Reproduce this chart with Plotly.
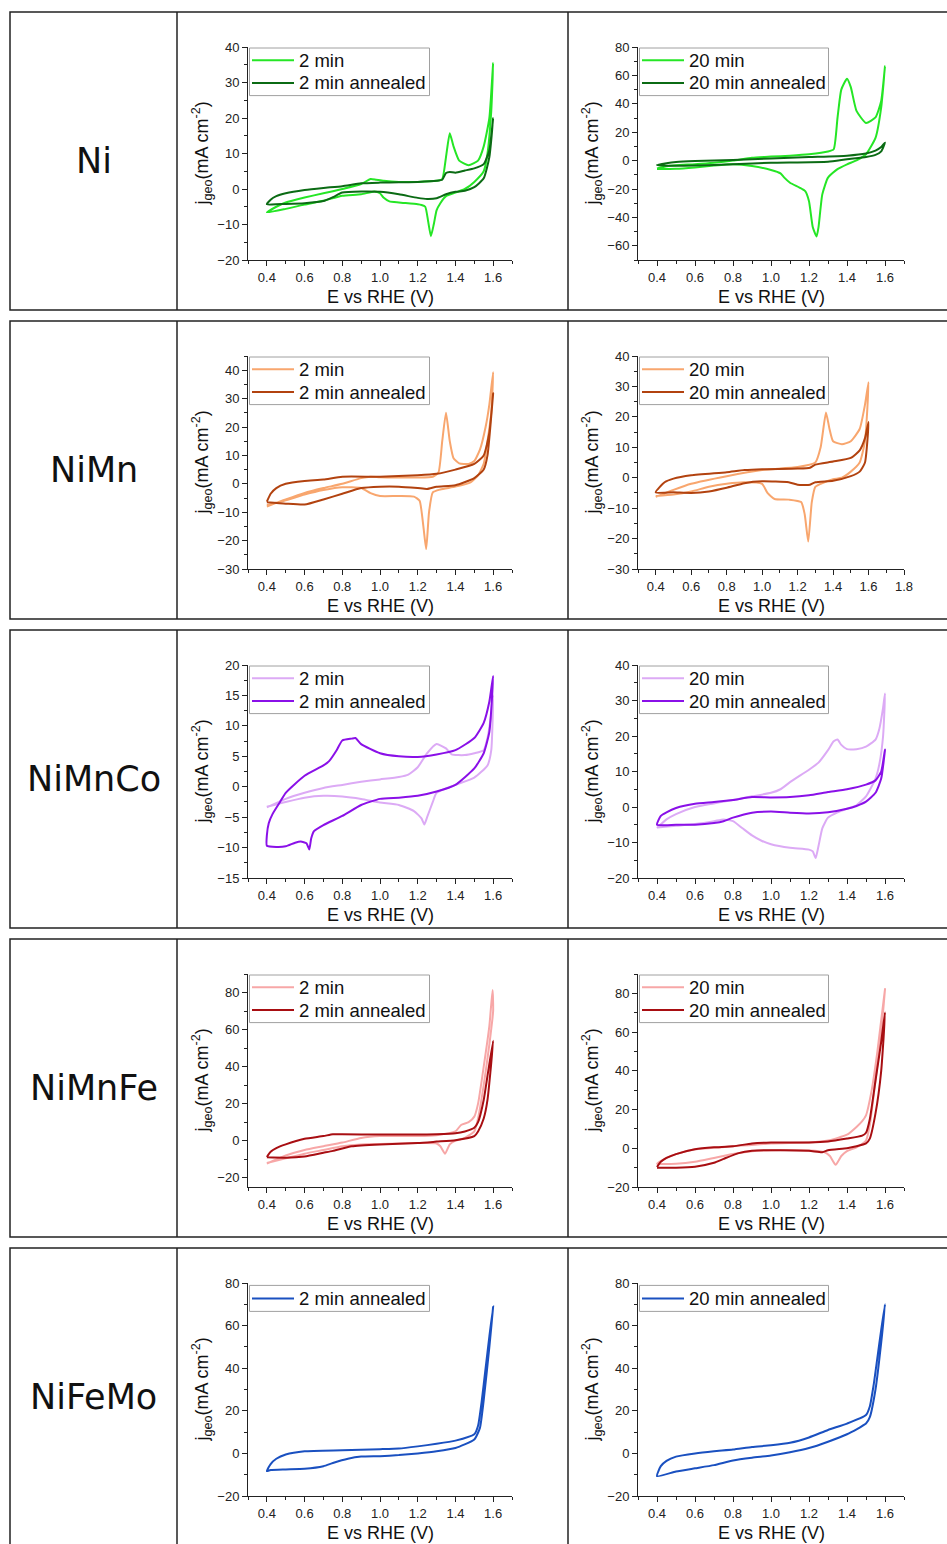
import plotly.graph_objects as go

# ---------------- data ----------------
# Ni, 2 min
ni_2_E = [0.40,0.45,0.50,0.60,0.70,0.80,0.90,0.95,0.98,1.02,1.10,1.20,1.30,1.33,1.35,1.37,1.39,1.42,1.47,1.52,1.55,1.58,1.60,
          1.59,1.57,1.55,1.50,1.45,1.40,1.35,1.32,1.30,1.285,1.27,1.255,1.24,1.22,1.20,1.10,1.05,1.02,1.00,0.97,0.90,0.80,0.70,0.60,0.50,0.40]
ni_2_j = [-6.6,-5.0,-3.8,-2.4,-1.2,0.0,1.4,2.8,2.6,2.3,2.0,2.0,2.3,2.8,9.0,15.7,12.0,8.0,6.7,8.0,12,20,35.4,
          22,10,5,2,0,-1,-2,-4,-6,-10,-13.3,-9,-5,-4.5,-4.3,-3.8,-3.5,-2.5,-1.2,-0.7,-1.5,-1.9,-3.3,-4.4,-5.6,-6.6]
# Ni, 2 min annealed
ni_2a_E = [0.40,0.42,0.45,0.50,0.60,0.70,0.80,0.90,1.00,1.10,1.20,1.30,1.33,1.35,1.37,1.40,1.45,1.50,1.55,1.58,1.60,
           1.58,1.55,1.50,1.45,1.40,1.35,1.30,1.25,1.20,1.10,1.00,0.90,0.80,0.75,0.70,0.60,0.50,0.40]
ni_2a_j = [-4.3,-3.0,-2.0,-1.2,-0.3,0.3,0.8,1.6,1.8,1.9,2.0,2.3,2.6,4.5,4.8,4.6,5.2,5.8,7.0,11,19.9,
           9,3,0.5,-0.5,-0.8,-1.5,-2.6,-2.8,-2.5,-1.5,-0.8,-0.7,-1.0,-2.3,-3.4,-4.0,-4.2,-4.3]
# Ni, 20 min
ni_20_E = [0.40,0.45,0.50,0.60,0.70,0.80,0.90,1.00,1.10,1.20,1.30,1.33,1.35,1.37,1.40,1.42,1.45,1.50,1.55,1.58,1.60,
           1.58,1.55,1.50,1.45,1.40,1.35,1.30,1.27,1.25,1.24,1.22,1.20,1.18,1.15,1.10,1.07,1.05,1.00,0.90,0.80,0.70,0.60,0.50,0.40]
ni_20_j = [-5.5,-4.0,-3.2,-2.5,-1.5,0.0,2.0,2.8,3.5,4.5,6.4,8.0,30,50,57.6,51.7,35,26.5,30.4,42,66.5,
           37.5,16,4.5,0.2,-2.6,-6,-12,-23.8,-47,-53.4,-47,-28.6,-21.5,-19,-15.6,-12,-9,-6.6,-3.8,-2.6,-3.5,-4.8,-5.8,-6.0]
# Ni, 20 min annealed
ni_20a_E = [0.40,0.45,0.50,0.60,0.80,1.00,1.20,1.40,1.50,1.55,1.58,1.60,
            1.58,1.55,1.50,1.40,1.30,1.00,0.80,0.60,0.45,0.40]
ni_20a_j = [-3.0,-1.8,-1.0,-0.3,0.5,1.5,2.5,3.5,5.0,7.0,9.5,12.7,
            6.5,4.0,2.5,1.0,-0.8,-1.5,-2.5,-3.5,-3.6,-3.0]

# NiMn, 2 min
nimn_2_E = [0.40,0.50,0.60,0.70,0.80,0.90,0.95,1.00,1.10,1.20,1.28,1.31,1.33,1.35,1.37,1.39,1.42,1.47,1.50,1.53,1.56,1.58,1.60,
            1.59,1.57,1.55,1.52,1.48,1.40,1.32,1.28,1.26,1.245,1.23,1.21,1.18,1.10,1.00,0.95,0.90,0.80,0.70,0.60,0.50,0.40]
nimn_2_j = [-8.0,-5.5,-3.2,-1.5,0.0,2.0,2.5,2.3,2.2,2.2,2.5,4.0,15,25,15,9,7.2,7,8,12,20,28,39.3,
            25,15,7,3,0.5,-1,-2,-3,-10,-23,-15,-6,-4.5,-4.3,-4.3,-3.3,-1.5,-1.2,-2.2,-3.8,-5.8,-7.5]
# NiMn, 2 min annealed
nimn_2a_E = [0.40,0.42,0.45,0.50,0.60,0.70,0.80,1.00,1.20,1.30,1.40,1.50,1.55,1.58,1.60,
             1.57,1.55,1.50,1.40,1.30,1.25,1.20,1.10,1.00,0.90,0.80,0.70,0.60,0.50,0.40]
nimn_2a_j = [-6.3,-3.5,-1.5,0.0,1.0,1.5,2.5,2.5,3.0,3.5,5.0,7.0,10,18,31.9,
             10,5,2,-0.5,-1,-1.8,-1.5,-1,-1,-1.5,-3.5,-5.5,-7.3,-7,-6.5]
# NiMn, 20 min
nimn_20_E = [0.40,0.50,0.60,0.80,1.00,1.20,1.30,1.33,1.36,1.38,1.40,1.45,1.50,1.55,1.58,1.60,
             1.58,1.55,1.50,1.45,1.40,1.33,1.30,1.28,1.26,1.24,1.22,1.15,1.07,1.03,1.00,0.90,0.80,0.70,0.60,0.50,0.40]
nimn_20_j = [-6.3,-4,-2,0.5,2.5,3.5,5,10,21.4,16,12,11,12,16,24,31.4,
             12,5,2,0,-0.5,-2,-3,-8,-21,-12,-8,-7.2,-7,-5,-2,-1.5,-2,-3,-4.5,-5.5,-6]
# NiMn, 20 min annealed
nimn_20a_E = [0.40,0.45,0.50,0.60,0.80,0.90,1.00,1.20,1.27,1.30,1.40,1.50,1.55,1.58,1.60,
              1.58,1.55,1.50,1.40,1.30,1.27,1.20,1.15,1.00,0.90,0.80,0.70,0.60,0.50,0.40]
nimn_20a_j = [-4.8,-1.5,-0.3,0.8,1.8,2.5,2.8,3.0,3.3,4.3,5.3,6.5,9,13,18.3,
              5,2,0.5,-1,-1.5,-2.3,-2.3,-1.5,-1.2,-1.8,-3.3,-4.5,-5,-4.8,-4.8]

# NiMnCo, 2 min
nimnco_2_E = [0.40,0.50,0.60,0.70,0.80,0.90,1.00,1.10,1.15,1.20,1.25,1.30,1.35,1.38,1.45,1.50,1.55,1.57,1.59,1.60,
              1.59,1.57,1.50,1.40,1.30,1.28,1.25,1.235,1.22,1.18,1.10,1.00,0.90,0.80,0.70,0.60,0.50,0.40]
nimnco_2_j = [-3.4,-2,-1,-0.2,0.3,0.8,1.2,1.6,2,3.2,5.5,7,6.3,5.3,5.2,5.5,6,8,12,15,
              6,3.5,1.5,0.3,-1,-2.5,-5,-6.2,-5.2,-4,-3,-2.6,-2,-1.6,-1.5,-1.8,-2.5,-3.3]
# NiMnCo, 2 min annealed
nimnco_2a_E = [0.40,0.40,0.41,0.43,0.47,0.50,0.60,0.70,0.73,0.77,0.80,0.85,0.87,0.90,1.00,1.10,1.20,1.30,1.40,1.50,1.55,1.58,1.60,
               1.58,1.55,1.50,1.40,1.30,1.20,1.10,1.00,0.90,0.80,0.70,0.65,0.635,0.625,0.61,0.58,0.55,0.50,0.45,0.40]
nimnco_2a_j = [-9.7,-8,-6,-4.5,-2.5,-1,1.8,3.5,4.2,6,7.6,7.9,8,7,5.5,5,4.9,5.3,6,8,10.5,14,18.2,
               9,5.5,3,0.3,-0.8,-1.5,-1.8,-2,-3,-4.8,-6.3,-7.3,-8.5,-10.3,-9.3,-9,-9.2,-9.8,-9.9,-9.7]
# NiMnCo, 20 min
nimnco_20_E = [0.40,0.45,0.50,0.60,0.80,0.90,1.00,1.05,1.10,1.20,1.25,1.30,1.33,1.35,1.37,1.40,1.45,1.50,1.55,1.57,1.59,1.60,
               1.59,1.57,1.55,1.50,1.45,1.40,1.35,1.30,1.27,1.25,1.235,1.22,1.20,1.10,1.00,0.95,0.90,0.85,0.80,0.75,0.70,0.60,0.50,0.40]
nimnco_20_j = [-5.9,-3.5,-2.0,0.0,2.0,3.0,4.0,5.0,7.0,10.5,12.5,16,18.5,19,17.5,16.3,16.3,17,19,22,28,32,
               20,12,8,3,0.5,-0.5,-1.5,-3,-6,-11,-14.4,-12.5,-12,-11.5,-10.5,-9.5,-8,-6,-4,-3.5,-4,-4.8,-5.3,-5.8]
# NiMnCo, 20 min annealed
nimnco_20a_E = [0.40,0.42,0.45,0.50,0.60,0.70,0.80,0.90,1.00,1.10,1.20,1.30,1.40,1.50,1.55,1.58,1.60,
                1.58,1.55,1.50,1.45,1.40,1.30,1.20,1.10,1.00,0.90,0.80,0.75,0.70,0.60,0.50,0.40]
nimnco_20a_j = [-5,-2.5,-1.5,-0.3,0.9,1.4,2,2.8,2.7,2.8,3.3,4.2,5,6.3,7.5,10,16.2,
                8,4,1.5,0.3,-0.5,-1.5,-1.8,-1.6,-1.3,-1.6,-3,-4,-4.5,-5,-5,-5]

# NiMnFe, 2 min
nimnfe_2_E = [0.40,0.50,0.60,0.70,0.80,0.90,1.00,1.20,1.30,1.40,1.43,1.47,1.50,1.52,1.55,1.58,1.597,
              1.60,1.58,1.55,1.52,1.50,1.45,1.40,1.37,1.345,1.32,1.30,1.20,1.00,0.90,0.80,0.70,0.60,0.50,0.40]
nimnfe_2_j = [-12.4,-8,-5,-3,-1,1.5,2.5,2.5,3,5,8.5,10,13,20,40,62,81.3,
              70,52,30,12,5,1.5,0,-2,-7,-3,-1.5,-1.3,-1.8,-2,-3,-5,-7,-9.5,-12]
# NiMnFe, 2 min annealed
nimnfe_2a_E = [0.40,0.42,0.45,0.50,0.60,0.70,0.75,0.80,1.00,1.20,1.30,1.40,1.45,1.50,1.52,1.55,1.57,1.60,
               1.57,1.55,1.52,1.50,1.40,1.30,1.20,1.00,0.85,0.75,0.70,0.60,0.50,0.40]
nimnfe_2a_j = [-8.8,-6,-4,-2,1,2.5,3.5,3.5,3.3,3.3,3.5,4,5,7,10,22,35,53.9,
               22,12,5,2.5,0.3,-0.5,-1.3,-2,-3,-5.5,-6.5,-8.5,-9.2,-9]
# NiMnFe, 20 min
nimnfe_20_E = [0.40,0.45,0.50,0.60,0.80,1.00,1.20,1.30,1.40,1.45,1.48,1.50,1.53,1.56,1.60,
               1.58,1.55,1.52,1.50,1.45,1.40,1.37,1.34,1.31,1.28,1.20,1.00,0.90,0.80,0.70,0.60,0.50,0.40]
nimnfe_20_j = [-8,-5,-3,-0.5,1,2.5,3,4,7,11,14,17,30,50,82.2,
               60,35,12,4,0.5,-1.5,-4,-8.5,-4,-2,-1.2,-1,-1.5,-3,-5,-7,-8,-8]
# NiMnFe, 20 min annealed
nimnfe_20a_E = [0.40,0.42,0.45,0.50,0.60,0.70,0.80,0.90,1.00,1.20,1.30,1.40,1.48,1.50,1.52,1.55,1.58,1.60,
                1.58,1.55,1.52,1.50,1.45,1.40,1.30,1.27,1.20,1.00,0.90,0.83,0.75,0.70,0.60,0.50,0.40]
nimnfe_20a_j = [-9.7,-7,-5,-3,-0.5,0.5,1,2.5,3,3,3.5,5,6.5,8,15,35,55,70.1,
                40,18,5,2.5,1,0,-1,-2,-1.3,-1,-1.3,-2.5,-5.5,-7.5,-9.5,-10,-10]

# NiFeMo, 2 min annealed
nifemo_2a_E = [0.40,0.42,0.45,0.50,0.60,0.80,1.00,1.10,1.20,1.30,1.40,1.50,1.52,1.54,1.56,1.58,1.60,
               1.58,1.55,1.53,1.50,1.40,1.30,1.20,1.10,1.00,0.90,0.83,0.75,0.70,0.60,0.50,0.42,0.40]
nifemo_2a_j = [-8.3,-5,-2.5,-0.5,1,1.5,2,2.3,3.3,4.5,6,9,13,25,40,55,69,
               50,25,12,6.5,2.5,1,0,-0.8,-1.3,-1.5,-2.5,-4.5,-6,-7.2,-7.5,-7.8,-8.3]
# NiFeMo, 20 min annealed
nifemo_20a_E = [0.40,0.42,0.45,0.50,0.60,0.70,0.80,0.90,1.00,1.10,1.20,1.30,1.40,1.50,1.52,1.54,1.56,1.58,1.60,
                1.58,1.55,1.52,1.50,1.40,1.30,1.20,1.10,1.00,0.90,0.80,0.70,0.60,0.50,0.40]
nifemo_20a_j = [-10.7,-6,-3.5,-1.5,0,1,1.8,3,3.8,5,7.5,11,14,18,22,32,45,58,70,
                52,30,17,14,9,5.5,2.5,0.5,-1,-2,-3.3,-5.5,-7,-8.5,-10.7]

row_labels = ["Ni", "NiMn", "NiMnCo", "NiMnFe", "NiFeMo"]
x_tick_labels = ["0.4", "0.6", "0.8", "1.0", "1.2", "1.4", "1.6", "1.8"]
x_title = "E vs RHE (V)"
y_title = "j<sub>geo</sub>(mA cm<sup>-2</sup>)"

# ---------------- styling / layout ----------------
W, H = 947, 1544
ROW_TOPS = [12, 321, 630, 939, 1248]
ROW_H = 298
COL_X = [(248, 512), (638, 904)]
FONT = "Liberation Sans, Arial, sans-serif"
AX = "#222222"

C = {
    "ni": ("#25e625", "#0b6b14"),
    "nimn": ("#f8a66e", "#b2420f"),
    "nimnco": ("#dcaaf5", "#8a10e8"),
    "nimnfe": ("#f7a7a7", "#a80e12"),
    "nifemo": (None, "#1a50c0"),
}

# panel: row, col, y-range, y-dtick, x-range, legend box width, traces
panels = [
    (0, 0, [-20, 40], 10, [0.3, 1.7], 180, [("2 min", ni_2_E, ni_2_j, C["ni"][0]), ("2 min annealed", ni_2a_E, ni_2a_j, C["ni"][1])]),
    (0, 1, [-70, 80], 20, [0.3, 1.7], 189, [("20 min", ni_20_E, ni_20_j, C["ni"][0]), ("20 min annealed", ni_20a_E, ni_20a_j, C["ni"][1])]),
    (1, 0, [-30, 45], 10, [0.3, 1.7], 180, [("2 min", nimn_2_E, nimn_2_j, C["nimn"][0]), ("2 min annealed", nimn_2a_E, nimn_2a_j, C["nimn"][1])]),
    (1, 1, [-30, 40], 10, [0.3, 1.8], 189, [("20 min", nimn_20_E, nimn_20_j, C["nimn"][0]), ("20 min annealed", nimn_20a_E, nimn_20a_j, C["nimn"][1])]),
    (2, 0, [-15, 20], 5, [0.3, 1.7], 180, [("2 min", nimnco_2_E, nimnco_2_j, C["nimnco"][0]), ("2 min annealed", nimnco_2a_E, nimnco_2a_j, C["nimnco"][1])]),
    (2, 1, [-20, 40], 10, [0.3, 1.7], 189, [("20 min", nimnco_20_E, nimnco_20_j, C["nimnco"][0]), ("20 min annealed", nimnco_20a_E, nimnco_20a_j, C["nimnco"][1])]),
    (3, 0, [-25, 90], 20, [0.3, 1.7], 180, [("2 min", nimnfe_2_E, nimnfe_2_j, C["nimnfe"][0]), ("2 min annealed", nimnfe_2a_E, nimnfe_2a_j, C["nimnfe"][1])]),
    (3, 1, [-20, 90], 20, [0.3, 1.7], 189, [("20 min", nimnfe_20_E, nimnfe_20_j, C["nimnfe"][0]), ("20 min annealed", nimnfe_20a_E, nimnfe_20a_j, C["nimnfe"][1])]),
    (4, 0, [-20, 80], 20, [0.3, 1.7], 180, [("2 min annealed", nifemo_2a_E, nifemo_2a_j, C["nifemo"][1])]),
    (4, 1, [-20, 80], 20, [0.3, 1.7], 189, [("20 min annealed", nifemo_20a_E, nifemo_20a_j, C["nifemo"][1])]),
]


def px(x):
    return x / W


def py(y):
    return 1 - y / H


fig = go.Figure()
shapes, annotations = [], []
layout = dict(
    width=W, height=H, autosize=False,
    margin=dict(l=0, r=0, t=0, b=0, pad=0, autoexpand=False),
    paper_bgcolor="white", plot_bgcolor="white",
    font=dict(family=FONT, color="#111111"),
    showlegend=False,
)

for k, (r, c, yr, ydt, xr, lw, traces) in enumerate(panels, start=1):
    sfx = "" if k == 1 else str(k)
    top = ROW_TOPS[r] + 35
    bot = ROW_TOPS[r] + 248
    x0, x1 = COL_X[c]
    for name, E, j, col in traces:
        fig.add_trace(go.Scatter(
            x=E, y=j, name=name, mode="lines",
            line=dict(color=col, width=2, shape="spline", smoothing=0.5),
            xaxis="x" + sfx, yaxis="y" + sfx,
        ))
    nt = int(round((xr[1] - 0.4) / 0.2)) + 1
    nm = int(round((xr[1] - 0.3) / 0.1)) + 1
    layout["xaxis" + sfx] = dict(
        domain=[px(x0), px(x1)], anchor="y" + sfx, range=xr, automargin=False,
        tickmode="array", tickvals=[0.4 + 0.2 * i for i in range(nt)], ticktext=x_tick_labels[:nt],
        showline=True, linecolor=AX, linewidth=1, mirror=False,
        ticks="outside", ticklen=5, tickwidth=1, tickcolor=AX,
        minor=dict(ticks="outside", ticklen=3, tickwidth=1, tickcolor=AX,
                   tickvals=[0.3 + 0.1 * i for i in range(nm)]),
        showgrid=False, zeroline=False,
        tickfont=dict(size=13, family=FONT, color="#222"),
    )
    layout["yaxis" + sfx] = dict(
        domain=[py(bot), py(top)], anchor="x" + sfx, range=yr, automargin=False,
        tick0=0, dtick=ydt,
        showline=True, linecolor=AX, linewidth=1, mirror=False,
        ticks="outside", ticklen=5, tickwidth=1, tickcolor=AX,
        minor=dict(ticks="outside", ticklen=3, tickwidth=1, tickcolor=AX, dtick=ydt / 2, tick0=0),
        showgrid=False, zeroline=False,
        tickfont=dict(size=13, family=FONT, color="#222"),
    )
    # axis titles
    annotations.append(dict(text=x_title, xref="paper", yref="paper",
                            x=px((x0 + x1) / 2), y=py(bot + 37), xanchor="center", yanchor="middle",
                            showarrow=False, font=dict(size=18, family=FONT, color="#111")))
    annotations.append(dict(text=y_title, xref="paper", yref="paper", textangle=-90,
                            x=px(x0 - 46), y=py((top + bot) / 2), xanchor="center", yanchor="middle",
                            showarrow=False, font=dict(size=18, family=FONT, color="#111")))
    # legend box (Origin-style, inside top-left corner of the plot)
    n = len(traces)
    lx0 = x0 + 1.5
    ly0 = top + (1 if n == 2 else 2.4)
    lh = 47.6 if n == 2 else 26
    shapes.append(dict(type="rect", xref="paper", yref="paper",
                       x0=px(lx0), x1=px(lx0 + lw), y0=py(ly0 + lh), y1=py(ly0),
                       fillcolor="white", line=dict(color="#a0a0a0", width=1), layer="above"))
    for i, (name, E, j, col) in enumerate(traces):
        yc = ly0 + (12.3 if n == 2 else 13) + 22.7 * i
        shapes.append(dict(type="line", xref="paper", yref="paper",
                           x0=px(lx0 + 2.5), x1=px(lx0 + 44.5), y0=py(yc), y1=py(yc),
                           line=dict(color=col, width=2), layer="above"))
        annotations.append(dict(text=name, xref="paper", yref="paper",
                                x=px(lx0 + 47.5), y=py(yc), xanchor="left", yanchor="middle",
                                showarrow=False, font=dict(size=18.5, family=FONT, color="#111")))

# table borders and row labels
for r, t in enumerate(ROW_TOPS):
    b = t + ROW_H if r < 4 else H + 20
    shapes.append(dict(type="rect", xref="paper", yref="paper",
                       x0=px(10), x1=px(W + 20), y0=py(b), y1=py(t),
                       line=dict(color=AX, width=1.5), layer="below"))
    for xd in (177, 568):
        shapes.append(dict(type="line", xref="paper", yref="paper",
                           x0=px(xd), x1=px(xd), y0=py(b), y1=py(t),
                           line=dict(color=AX, width=1.5), layer="below"))
    annotations.append(dict(
        text=row_labels[r], xref="paper", yref="paper",
        x=px(93.5), y=py(t + 149), xanchor="center", yanchor="middle",
        showarrow=False, font=dict(family="DejaVu Sans", size=35, color="#111"),
    ))

layout["shapes"] = shapes
layout["annotations"] = annotations
fig.update_layout(**layout)
fig.write_html(
    "out.html",
    post_script="document.documentElement.style.margin='0';document.body.style.margin='0';"
                "document.body.style.overflow='hidden';",
)
